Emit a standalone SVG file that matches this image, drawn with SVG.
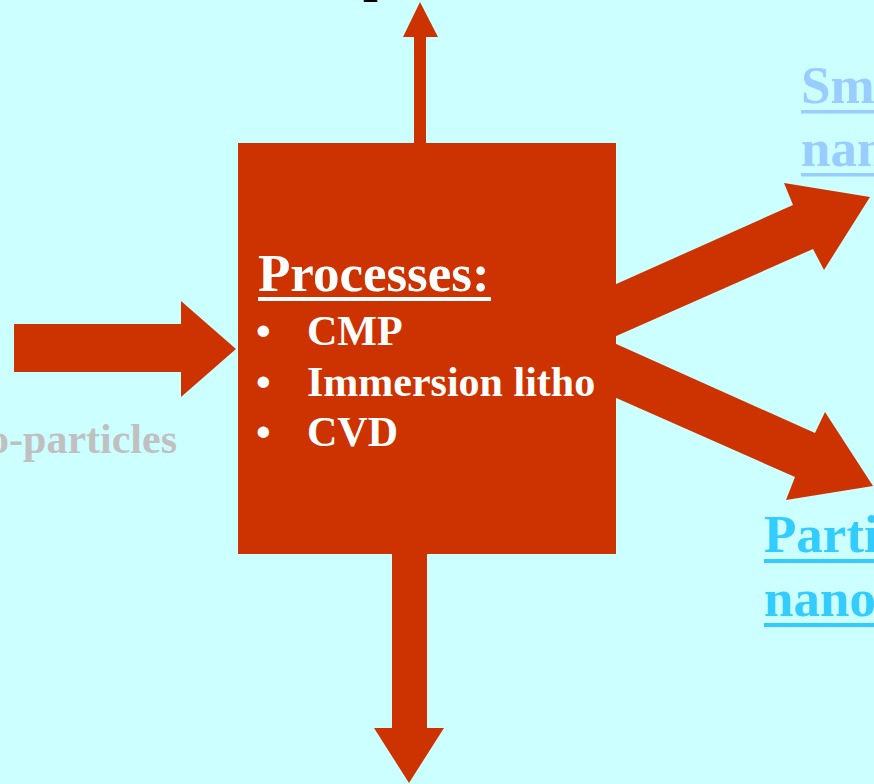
<svg xmlns="http://www.w3.org/2000/svg" width="874" height="784" viewBox="0 0 874 784">
<style>
.arr{fill:#cc3300}
.t{font-family:"Liberation Serif","Times New Roman",serif;font-weight:bold}
.w{fill:#ffffff}
</style>
<rect x="0" y="0" width="874" height="784" fill="#ccffff"/>
<g id="title"><text class="t" x="363" y="-9" font-size="53" fill="#000000">p</text></g>
<g id="connectors">
<polygon class="arr" points="414,143 414,37 403,37 420,2 438,37 426,37 426,143"/>
<polygon class="arr" points="392,554 392,728 374,728 409,783 444,728 427,728 427,554"/>
<polygon class="arr" points="14,324 181,324 181,301 236,349 181,397 181,372 14,372"/>
<polygon class="arr" points="614,285 793,205 784,183 870,197 824,270 813,249 614,337"/>
<polygon class="arr" points="614,343 815,433 825,412 873,486 786,500 795,477 614,397"/>
</g>
<g id="process">
<rect x="238" y="143" width="378" height="411" fill="#cc3300"/>
<text class="t w" x="258" y="291" font-size="53">Processes:</text>
<rect x="258" y="297" width="233" height="4" fill="#ffffff"/>
<text class="t w" x="256" y="345" font-size="42">•</text>
<text class="t w" x="307" y="345" font-size="42">CMP</text>
<text class="t w" x="256" y="396" font-size="42">•</text>
<text class="t w" x="307" y="396" font-size="42">Immersion litho</text>
<text class="t w" x="256" y="446" font-size="42">•</text>
<text class="t w" x="307" y="446" font-size="42">CVD</text>
</g>
<g id="input-label"><text class="t" x="177" y="453" font-size="42" fill="#c0c0c0" text-anchor="end">o-particles</text></g>
<g id="output-top">
<text class="t" x="801" y="103" font-size="53" fill="#99ccff">Sm</text>
<rect x="801" y="110" width="73" height="3.5" fill="#99ccff"/>
<text class="t" x="801" y="166" font-size="53" fill="#99ccff">nan</text>
<rect x="801" y="173" width="73" height="3.5" fill="#99ccff"/>
</g>
<g id="output-bottom">
<text class="t" x="764" y="552" font-size="53" fill="#33ccff">Parti</text>
<rect x="764" y="559" width="110" height="4" fill="#33ccff"/>
<text class="t" x="764" y="616" font-size="53" fill="#33ccff">nano</text>
<rect x="764" y="623" width="110" height="4" fill="#33ccff"/>
</g>
</svg>
